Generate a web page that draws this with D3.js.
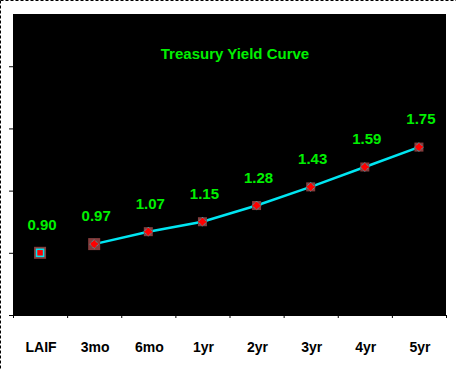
<!DOCTYPE html>
<html>
<head>
<meta charset="utf-8">
<script src="https://cdn.jsdelivr.net/npm/d3@7"></script>
<style>
  body { margin: 0; background: #fff; }
  svg { display: block; }
  text { font-family: "Liberation Sans", Arial, sans-serif; font-weight: bold; }
</style>
</head>
<body>
<svg width="456" height="370"></svg>
<script>
var categories = ["LAIF", "3mo", "6mo", "1yr", "2yr", "3yr", "4yr", "5yr"];
var laifValue = [0.90];
var treasuryCats = ["3mo", "6mo", "1yr", "2yr", "3yr", "4yr", "5yr"];
var treasuryValues = [0.97, 1.07, 1.15, 1.28, 1.43, 1.59, 1.75];
var yTicks = [0.4, 0.9, 1.4, 1.9, 2.4];
var title = "Treasury Yield Curve";

var svg = d3.select("svg"),
    W = +svg.attr("width"),
    H = +svg.attr("height"),
    plot = {left: 13, right: 446, top: 14, bottom: 315};

var brown = "#853c3c", cyan = "#00e6f2", red = "#ff0000", green = "#00f000";

var x = d3.scaleBand().domain(categories).range([plot.left, plot.right]),
    xb = d3.scaleLinear().domain([0, categories.length]).range([plot.left, plot.right]),
    y = d3.scaleLinear().domain([0.4, 2.82]).range([plot.bottom, plot.top]);

function cx(c) { return x(c) + x.bandwidth() / 2; }

// dashed frame (top and left only)
svg.append("line").attr("x1", 0.5).attr("y1", 0.5).attr("x2", W).attr("y2", 0.5)
    .attr("stroke", "#000").attr("stroke-dasharray", "3,2");
svg.append("line").attr("x1", 0.5).attr("y1", 0.5).attr("x2", 0.5).attr("y2", H)
    .attr("stroke", "#000").attr("stroke-dasharray", "3,2");

// plot area
svg.append("rect")
    .attr("x", plot.left).attr("y", plot.top)
    .attr("width", plot.right - plot.left).attr("height", plot.bottom - plot.top)
    .attr("fill", "#000");

// axes
svg.append("g")
    .attr("transform", "translate(" + plot.left + ",0)")
    .call(d3.axisLeft(y).tickValues(yTicks).tickSize(4).tickSizeOuter(0).tickFormat(""))
    .call(function(g) { g.selectAll("line, path").attr("stroke", "#000"); });

svg.append("g")
    .attr("transform", "translate(0," + plot.bottom + ")")
    .call(d3.axisBottom(xb).tickValues(d3.range(categories.length + 1)).tickSize(3).tickSizeOuter(0).tickFormat(""))
    .call(function(g) { g.selectAll("line, path").attr("stroke", "#000"); });

svg.append("g").selectAll("text")
    .data(categories)
  .enter().append("text")
    .attr("x", function(d) { return cx(d) + 1; })
    .attr("y", 352)
    .attr("text-anchor", "middle")
    .attr("font-size", 14)
    .attr("fill", "#000")
    .text(function(d) { return d; });

// title
svg.append("text")
    .attr("x", 235)
    .attr("y", 59)
    .attr("text-anchor", "middle")
    .attr("font-size", 15)
    .attr("fill", green)
    .text(title);

// treasury line
var line = d3.line()
    .x(function(d, i) { return cx(treasuryCats[i]); })
    .y(function(d) { return y(d); });

svg.append("path")
    .datum(treasuryValues)
    .attr("fill", "none")
    .attr("stroke", cyan)
    .attr("stroke-width", 2.5)
    .attr("d", line);

// LAIF marker
var laif = svg.append("g")
    .attr("transform", "translate(" + cx("LAIF") + "," + y(laifValue[0]) + ")");
laif.append("rect").attr("x", -6).attr("y", -6).attr("width", 12).attr("height", 12).attr("fill", brown);
laif.append("rect").attr("x", -3.5).attr("y", -3.5).attr("width", 7).attr("height", 7)
    .attr("fill", red).attr("stroke", cyan).attr("stroke-width", 1.5);

// treasury markers
var diamond = "M0,-4.5L4.5,0L0,4.5L-4.5,0Z";
var mk = svg.append("g").selectAll("g")
    .data(treasuryValues)
  .enter().append("g")
    .attr("transform", function(d, i) { return "translate(" + cx(treasuryCats[i]) + "," + y(d) + ")"; });
mk.append("rect")
    .attr("x", function(d, i) { return i === 0 ? -6 : -4.5; })
    .attr("y", function(d, i) { return i === 0 ? -6 : -4.5; })
    .attr("width", function(d, i) { return i === 0 ? 12 : 9; })
    .attr("height", function(d, i) { return i === 0 ? 12 : 9; })
    .attr("fill", brown);
mk.append("path")
    .attr("d", diamond)
    .attr("fill", red)
    .attr("stroke", cyan)
    .attr("stroke-width", 0.8)
    .attr("stroke-dasharray", "1,1");

// value labels
var allCats = ["LAIF"].concat(treasuryCats),
    allVals = laifValue.concat(treasuryValues);

svg.append("g").selectAll("text")
    .data(allVals)
  .enter().append("text")
    .attr("x", function(d, i) { return cx(allCats[i]) + 2; })
    .attr("y", function(d) { return y(d) - 23; })
    .attr("text-anchor", "middle")
    .attr("font-size", 15)
    .attr("fill", green)
    .text(function(d) { return d3.format(".2f")(d); });
</script>
</body>
</html>
